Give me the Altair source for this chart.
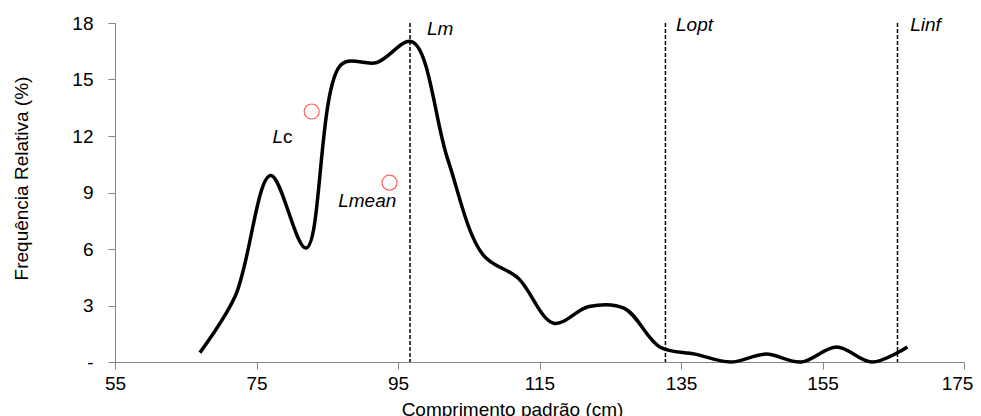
import altair as alt
import pandas as pd

# Length classes (cm) and relative frequency (%)
lengths = [67, 72, 77, 82, 87, 92, 97, 102, 107, 112, 117, 122, 127, 132, 137, 142, 147, 152, 157, 162, 167]
freq = [0.5, 3.5, 9.9, 6.05, 15.8, 15.9, 17.0, 10.8, 5.7, 4.45, 2.06, 2.95, 2.85, 0.8, 0.42, 0.0, 0.42, 0.0, 0.8, 0.0, 0.8]

# Reference lengths (dashed lines) and their labels
ref_names = ["Lm", "Lopt", "Linf"]
ref_x = [96.7, 132.8, 165.6]
ref_label_x = [99.1, 134.3, 167.4]
ref_label_y = [17.34, 17.55, 17.55]

# Red open circles (Lc, Lmean)
circle_x = [82.8, 93.8]
circle_y = [13.3, 9.52]

# Italic point labels
pt_labels = ["L", "Lmean"]
pt_label_x = [77.27, 86.55]
pt_label_y = [11.63, 8.25]
# upright part of "Lc"
up_labels = ["c"]
up_label_x = [78.75]
up_label_y = [11.63]

x_ticks = [55, 75, 95, 115, 135, 155, 175]
y_ticks = [0, 3, 6, 9, 12, 15, 18]

FONT = "Liberation Sans"

curve_df = pd.DataFrame({"x": lengths, "y": freq})
ref_df = pd.DataFrame({"x": ref_x})
ref_lab_df = pd.DataFrame({"x": ref_label_x, "y": ref_label_y, "t": ref_names})
circ_df = pd.DataFrame({"x": circle_x, "y": circle_y})
pt_df = pd.DataFrame({"x": pt_label_x, "y": pt_label_y, "t": pt_labels})
up_df = pd.DataFrame({"x": up_label_x, "y": up_label_y, "t": up_labels})

xscale = alt.Scale(domain=[55, 175], nice=False, zero=False)
yscale = alt.Scale(domain=[0, 18], nice=False)

xaxis = alt.Axis(
    title="Comprimento padrão (cm)", values=x_ticks, grid=False,
    domainColor="#868686", tickColor="#868686", tickSize=7, labelPadding=5,
    labelFont=FONT, labelFontSize=19, labelColor="#000000",
    labelOffset={"condition": {"test": "datum.value == 175", "value": -7}, "value": 0},
    titleFont=FONT, titleFontSize=19, titleFontWeight="normal", titleColor="#000000",
    titleX=397, titleY=53, titleBaseline="alphabetic", labelFlush=False,
)
yaxis = alt.Axis(
    title="Frequência Relativa (%)", values=y_ticks, grid=False,
    domainColor="#868686", tickColor="#868686", tickSize=7, labelPadding=15,
    labelFont=FONT, labelFontSize=19, labelColor="#000000",
    labelExpr="datum.value == 0 ? '-' : datum.label",
    titleFont=FONT, titleFontSize=19, titleFontWeight="normal", titleColor="#000000",
    titleX=-84, titleY=155,
)

curve = alt.Chart(curve_df).mark_line(
    interpolate="catmull-rom", color="#000000", strokeWidth=3.5
).encode(
    x=alt.X("x:Q", scale=xscale, axis=xaxis),
    y=alt.Y("y:Q", scale=yscale, axis=yaxis),
)

rules = alt.Chart(ref_df).mark_rule(
    color="#000000", strokeWidth=1.5, strokeDash=[4, 2]
).encode(x=alt.X("x:Q", scale=xscale))

ref_text = alt.Chart(ref_lab_df).mark_text(
    font=FONT, fontSize=19, fontStyle="italic", align="left", baseline="alphabetic", color="#000000"
).encode(x=alt.X("x:Q", scale=xscale), y=alt.Y("y:Q", scale=yscale), text="t:N")

circles = alt.Chart(circ_df).mark_point(
    shape="circle", size=225, filled=False, color="#FF6060", strokeWidth=1.2, opacity=1
).encode(x=alt.X("x:Q", scale=xscale), y=alt.Y("y:Q", scale=yscale))

pt_text = alt.Chart(pt_df).mark_text(
    font=FONT, fontSize=19, fontStyle="italic", align="left", baseline="alphabetic", color="#000000"
).encode(x=alt.X("x:Q", scale=xscale), y=alt.Y("y:Q", scale=yscale), text="t:N")

up_text = alt.Chart(up_df).mark_text(
    font=FONT, fontSize=19, align="left", baseline="alphabetic", color="#000000"
).encode(x=alt.X("x:Q", scale=xscale), y=alt.Y("y:Q", scale=yscale), text="t:N")

chart = alt.layer(curve, rules, ref_text, circles, pt_text, up_text).properties(
    width=849, height=339,
    autosize=alt.AutoSizeParams(type="none"),
    padding={"left": 107, "top": 15, "right": 9, "bottom": 62},
).configure_view(stroke=None)

chart.save("out.html", embed_options={"renderer": "svg", "actions": False})
